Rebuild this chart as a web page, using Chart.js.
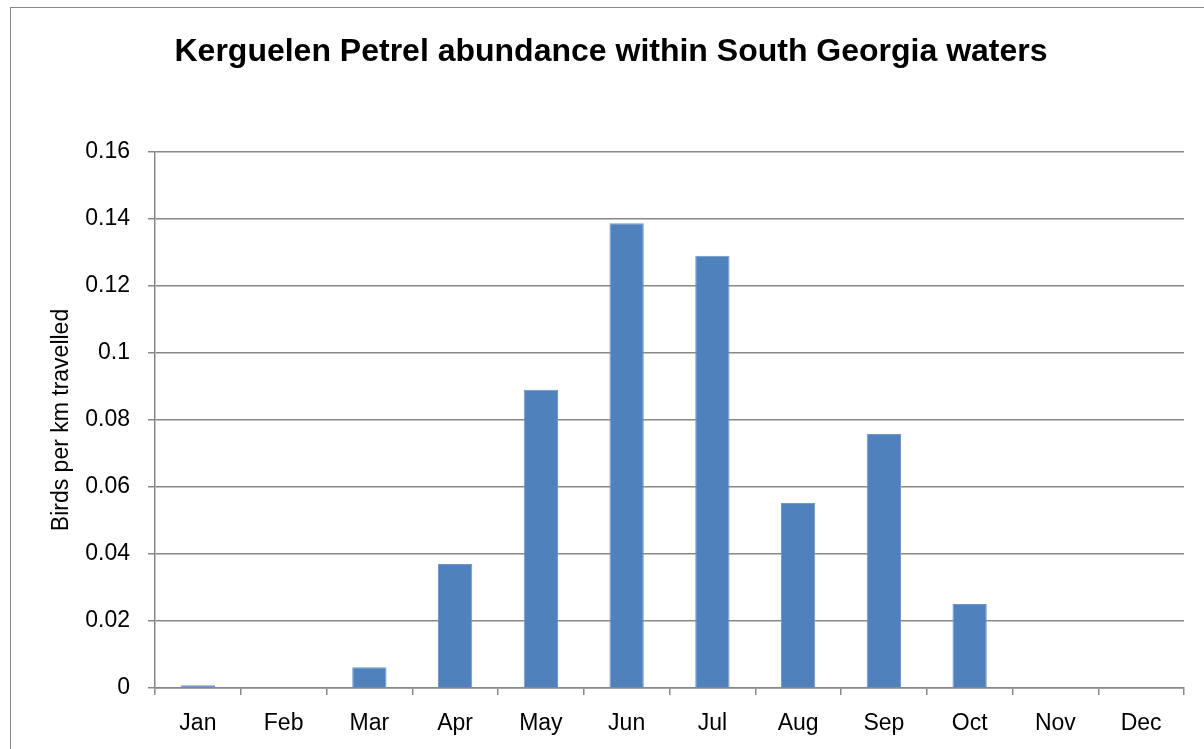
<!DOCTYPE html>
<html>
<head>
<meta charset="utf-8">
<script src="https://cdn.jsdelivr.net/npm/chart.js@4"></script>
<style>
  html, body { margin: 0; padding: 0; background: #fff; overflow: hidden; }
  #wrap { position: relative; width: 1204px; height: 749px; }
  #frame { position: absolute; left: 10px; top: 7px; width: 1400px; height: 900px; border: 1.5px solid #888; }
  canvas { position: absolute; left: 0; top: 0; }
</style>
</head>
<body>
<div id="wrap">
  <div id="frame"></div>
  <canvas id="petrelChart" width="1204" height="749"></canvas>
</div>
<script>
// Monthly abundance, birds per km travelled
const months = ["Jan", "Feb", "Mar", "Apr", "May", "Jun", "Jul", "Aug", "Sep", "Oct", "Nov", "Dec"];
const birdsPerKm = [0.0008, 0, 0.0062, 0.037, 0.089, 0.1387, 0.129, 0.0552, 0.0758, 0.0251, 0, 0];
const yTicks = [0, 0.02, 0.04, 0.06, 0.08, 0.1, 0.12, 0.14, 0.16];

const gridGray = "#888888";
const labelFont = { family: "'Liberation Sans', Arial, sans-serif", size: 23 };

const ctx = document.getElementById("petrelChart").getContext("2d");
new Chart(ctx, {
  type: "bar",
  data: {
    labels: months,
    datasets: [{
      label: "Birds per km travelled",
      data: birdsPerKm,
      backgroundColor: "#4F81BD",
      borderColor: "#6f98c8",
      borderWidth: 1,
      categoryPercentage: 1,
      barPercentage: 0.4
    }]
  },
  options: {
    responsive: false,
    animation: false,
    // left padding keeps the title centred over the plot, y axis fills the rest
    layout: { padding: { left: 38, right: 20, top: 0, bottom: 0 } },
    plugins: {
      legend: { display: false },
      tooltip: { enabled: false },
      title: {
        display: true,
        text: "Kerguelen Petrel abundance within South Georgia waters",
        color: "#000",
        font: { family: "'Liberation Sans', Arial, sans-serif", size: 32, weight: "bold" },
        padding: { top: 33, bottom: 80.6 }
      }
    },
    scales: {
      x: {
        afterFit: (scale) => { scale.height = 61; },
        grid: { drawOnChartArea: false, drawTicks: true, tickLength: 7, color: gridGray, lineWidth: 1.5 },
        border: { color: gridGray, width: 1.5 },
        ticks: { color: "#000", font: labelFont, padding: 15, maxRotation: 0 }
      },
      y: {
        min: yTicks[0],
        max: yTicks[yTicks.length - 1],
        afterFit: (scale) => { scale.width = 117; },
        afterBuildTicks: (scale) => { scale.ticks = yTicks.map(v => ({ value: v })); },
        grid: { color: gridGray, lineWidth: 1.5, tickLength: 7 },
        border: { color: gridGray, width: 1.5 },
        ticks: {
          color: "#000",
          font: labelFont,
          padding: 18,
          callback: (v) => String(+Number(v).toFixed(2))
        },
        title: {
          display: true,
          text: "Birds per km travelled",
          color: "#000",
          font: { family: "'Liberation Sans', Arial, sans-serif", size: 23 },
          padding: { top: 10, bottom: 0 }
        }
      }
    }
  }
});
</script>
</body>
</html>
